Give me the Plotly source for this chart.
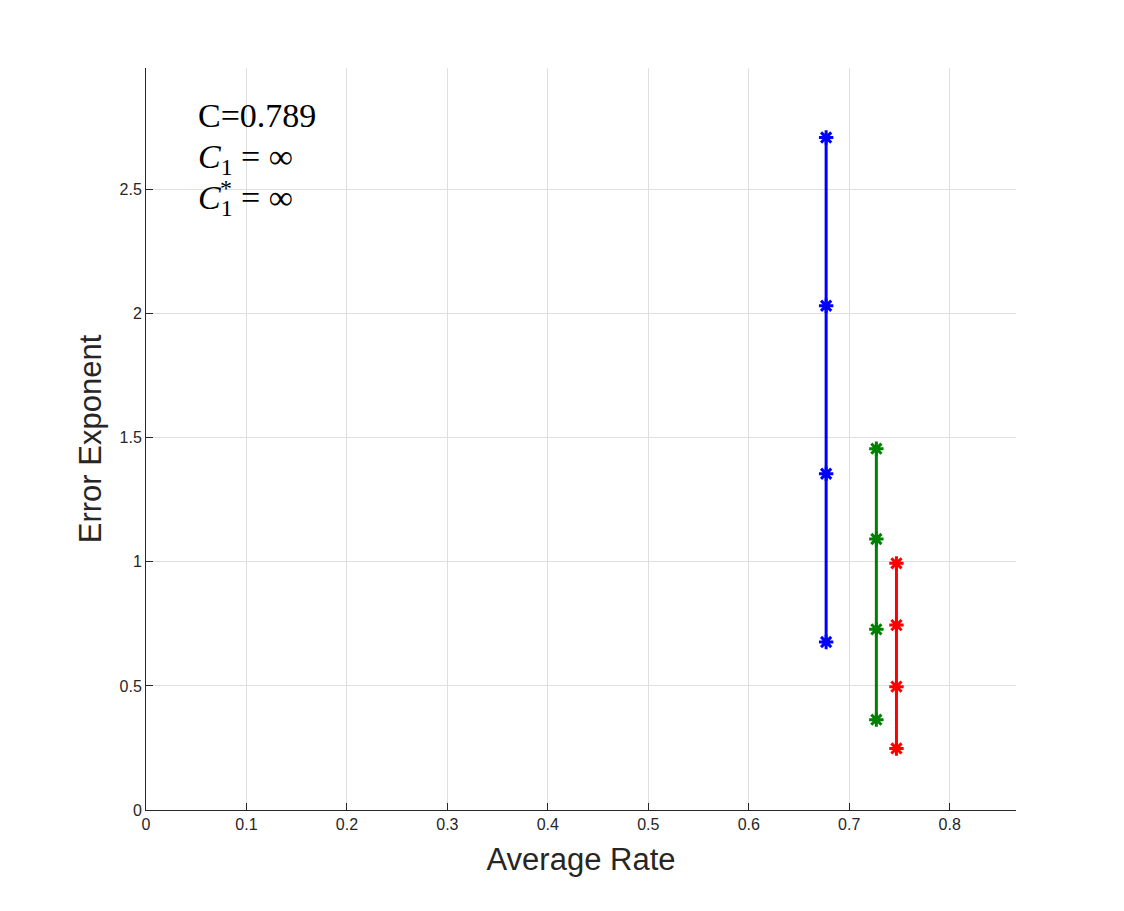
import plotly.graph_objects as go

blue_x = [0.677, 0.677, 0.677, 0.677]
blue_y = [0.677, 1.355, 2.032, 2.71]
green_x = [0.727, 0.727, 0.727, 0.727]
green_y = [0.364, 0.728, 1.092, 1.456]
red_x = [0.747, 0.747, 0.747, 0.747]
red_y = [0.248, 0.497, 0.745, 0.994]

x_ticks = [0, 0.1, 0.2, 0.3, 0.4, 0.5, 0.6, 0.7, 0.8]
x_tick_labels = ["0", "0.1", "0.2", "0.3", "0.4", "0.5", "0.6", "0.7", "0.8"]
y_ticks = [0, 0.5, 1, 1.5, 2, 2.5]
y_tick_labels = ["0", "0.5", "1", "1.5", "2", "2.5"]

fig = go.Figure()
for xs, ys, col in [(blue_x, blue_y, "#0000ff"), (green_x, green_y, "#008000"), (red_x, red_y, "#ff0000")]:
    fig.add_trace(go.Scatter(
        x=xs, y=ys, mode="lines+markers",
        line=dict(color=col, width=3),
        marker=dict(symbol="asterisk-open", size=12, color=col, line=dict(color=col, width=3)),
        showlegend=False,
    ))

axis_common = dict(
    showgrid=True, gridcolor="#dfdfdf", gridwidth=1,
    zeroline=False, showline=True, linecolor="#262626", linewidth=1,
    ticks="inside", ticklen=7, tickcolor="#262626",
    tickfont=dict(family="Liberation Sans", size=16, color="#262626"),
    mirror=False,
)

fig.update_layout(
    width=1124, height=911,
    margin=dict(l=138, r=116, t=60, b=109),
    plot_bgcolor="white", paper_bgcolor="white",
    xaxis=dict(range=[0, 0.866], tickvals=x_ticks, ticktext=x_tick_labels,
               title=dict(text="Average Rate", font=dict(family="Liberation Sans", size=31, color="#262626"), standoff=16),
               **axis_common),
    yaxis=dict(range=[0, 2.99], tickvals=y_ticks, ticktext=y_tick_labels,
               title=dict(text="Error Exponent", font=dict(family="Liberation Sans", size=31, color="#262626"), standoff=8),
               **axis_common),
)

tfont = dict(family="Liberation Serif", size=34, color="black")
fig.add_annotation(xref="x", yref="y", x=0.0498, y=2.80, xanchor="left", yanchor="middle",
                   text="C=0.789", showarrow=False, font=tfont)
fig.add_annotation(xref="x", yref="y", x=0.0498, y=2.625, xanchor="left", yanchor="middle",
                   text="<i>C</i><sub>1</sub> = ∞", showarrow=False, font=tfont)
fig.add_annotation(xref="x", yref="y", x=0.0498, y=2.46, xanchor="left", yanchor="middle",
                   text="<i>C</i><sub>1</sub> = ∞", showarrow=False, font=tfont)
fig.add_annotation(xref="x", yref="y", x=0.0715, y=2.565, xanchor="left", yanchor="top",
                   text="*", showarrow=False, font=dict(family="Liberation Serif", size=24, color="black"))

fig.write_html("out.html")
